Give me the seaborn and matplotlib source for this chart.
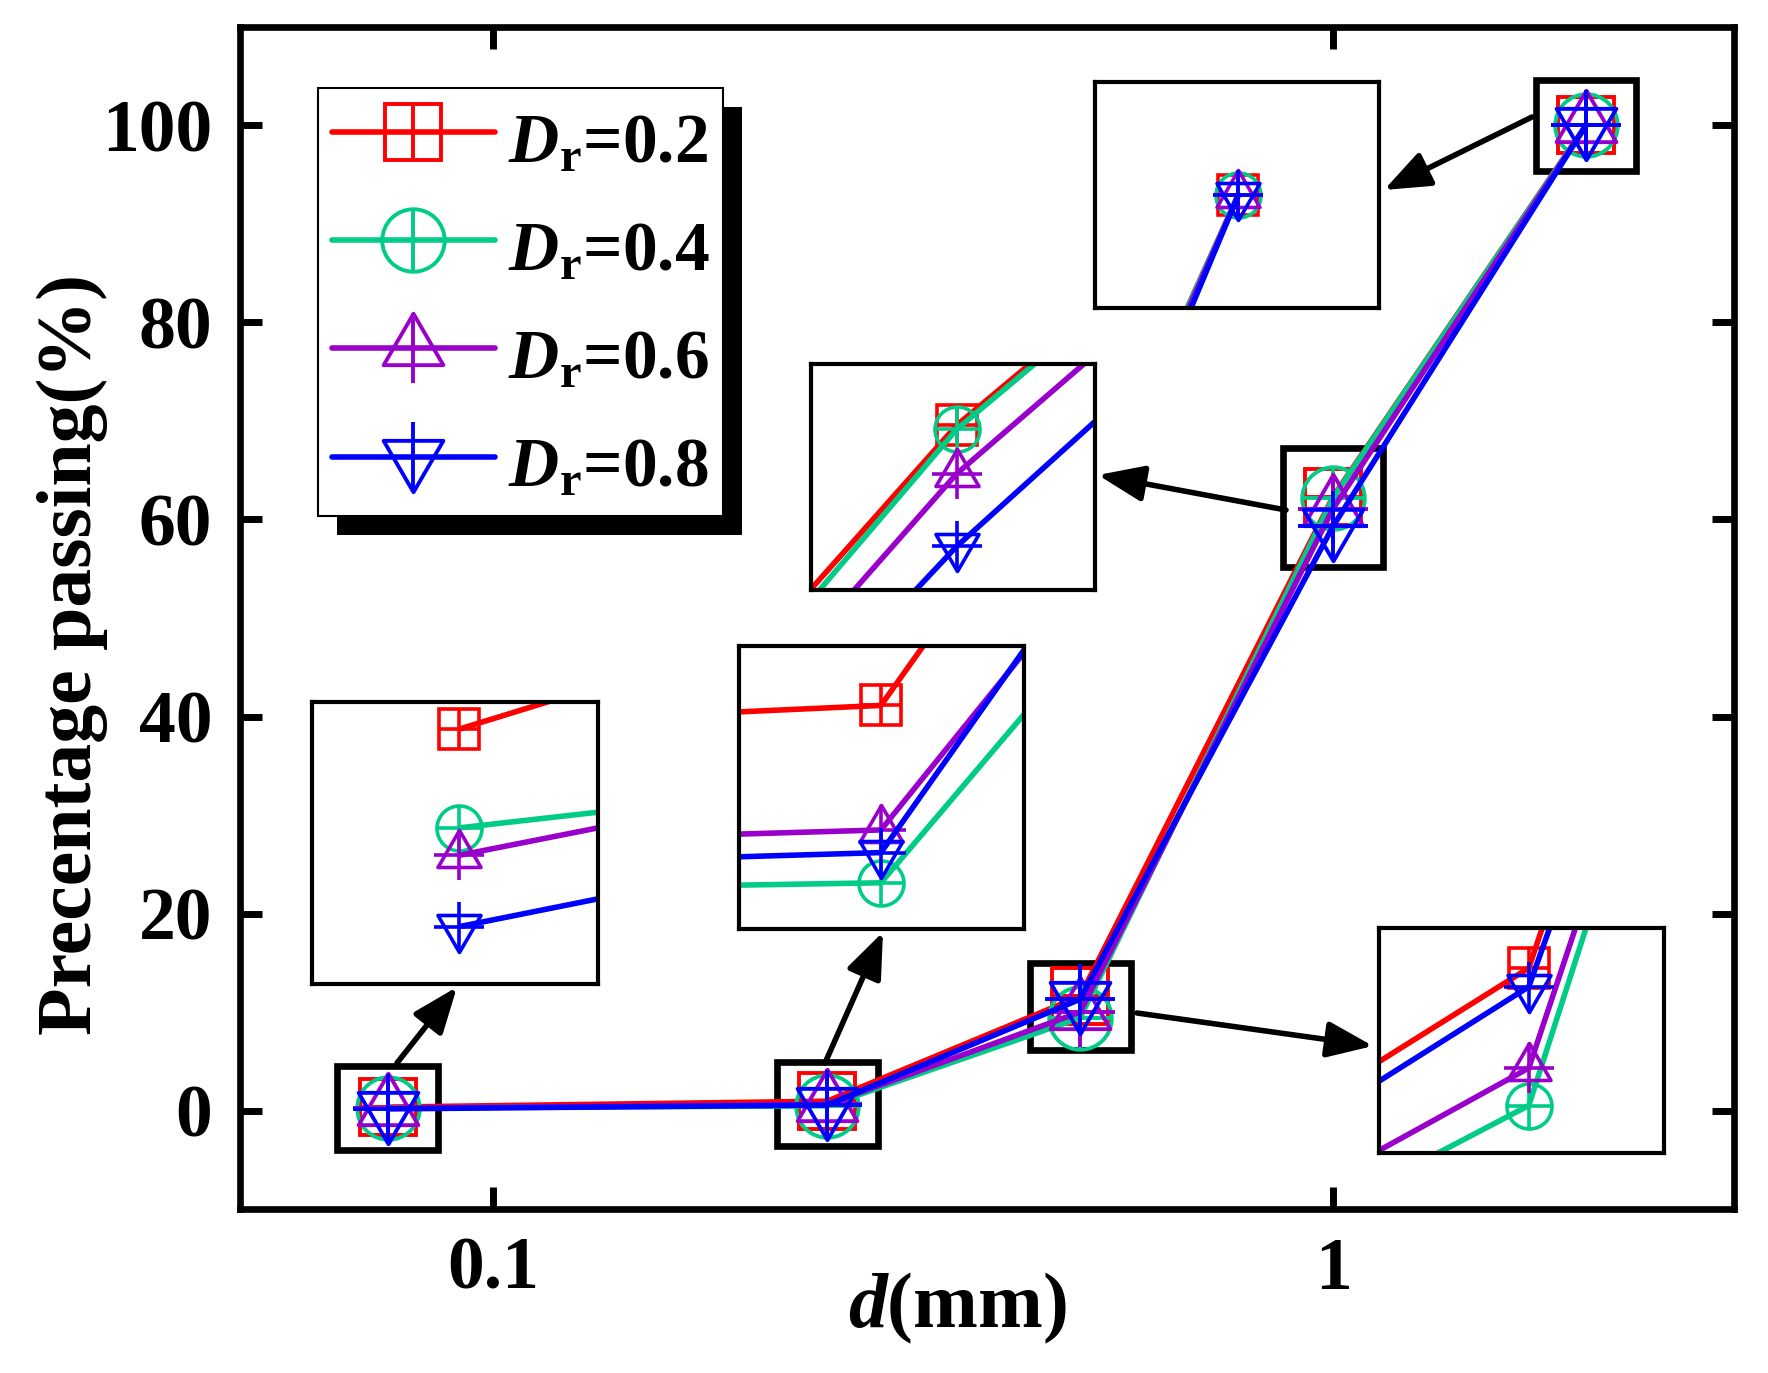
import matplotlib
matplotlib.use("Agg")
import numpy as np
import pandas as pd
import seaborn as sns
from matplotlib import pyplot as plt
from matplotlib.path import Path
from matplotlib.patches import Rectangle

# sieve sizes (mm) and percentage passing for each relative density
d = [0.075, 0.25, 0.5, 1.0, 2.0]
dr02 = [0.35, 0.95, 11.6, 62.3, 100.0]
dr04 = [0.26, 0.48, 9.4, 62.2, 100.0]
dr06 = [0.235, 0.62, 10.0, 61.1, 100.0]
dr08 = [0.17, 0.56, 11.3, 59.3, 100.0]
series = ["0.2", "0.4", "0.6", "0.8"]
yticks = [0, 20, 40, 60, 80, 100]
xticks = [0.1, 1]

df = pd.DataFrame({"d": d, "0.2": dr02, "0.4": dr04, "0.6": dr06, "0.8": dr08})

sns.set_style("ticks")
plt.rcParams["font.family"] = ["Liberation Serif", "DejaVu Serif"]
plt.rcParams["font.weight"] = "bold"
plt.rcParams["text.color"] = "k"
plt.rcParams["axes.labelcolor"] = "k"
plt.rcParams["xtick.color"] = "k"
plt.rcParams["ytick.color"] = "k"
plt.rcParams["mathtext.fontset"] = "custom"
plt.rcParams["mathtext.rm"] = "Liberation Serif:bold"
plt.rcParams["mathtext.bf"] = "Liberation Serif:bold"
plt.rcParams["mathtext.it"] = "Liberation Serif:italic:bold"
plt.rcParams["mathtext.bfit"] = "Liberation Serif:italic:bold"

codes = [Path.MOVETO, Path.LINETO, Path.LINETO, Path.CLOSEPOLY]
tri_up = Path([(0, 1), (-0.86, -0.48), (0.86, -0.48), (0, 1)], codes)
tri_dn = Path([(0, -1), (-0.86, 0.48), (0.86, 0.48), (0, -1)], codes)

colors = ["#FF0000", "#00CC88", "#9900CC", "#0000FF"]
markers = ["s", "o", tri_up, tri_dn]
msizes = [40, 45, 50, 50]


def draw(ax, scale, lw, mew):
    handles = []
    for lab, col, mk, ms in zip(series, colors, markers, msizes):
        sns.lineplot(data=df, x="d", y=lab, ax=ax, color=col, linewidth=lw,
                     marker=mk, markersize=ms * scale, markerfacecolor="none",
                     markeredgecolor=col, markeredgewidth=mew,
                     estimator=None, sort=False, legend=False)
        ln = ax.lines[-1]
        pl, = ax.plot(df["d"], df[lab], ls="none", marker="+",
                      markersize=ms * scale, markeredgecolor=col,
                      markeredgewidth=mew)
        handles.append((ln, pl))
    return handles


fig = plt.figure(figsize=(17.68, 13.73), dpi=100)
ax = fig.add_axes([0.1357, 0.1194, 0.845, 0.861])
handles = draw(ax, 1.0, 4.0, 2.8)

ax.set_xscale("log")
ax.set_xlim(0.05, 3.0)
ax.set_ylim(-10, 110)
ax.set_xticks(xticks)
ax.set_xticklabels(["0.1", "1"])
ax.xaxis.set_minor_locator(matplotlib.ticker.NullLocator())
ax.set_yticks(yticks)
ax.tick_params(which="major", direction="in", length=16, width=5,
               top=True, right=True, labelsize=53, pad=20, color="k",
               labelcolor="k")
for sp in ax.spines.values():
    sp.set_linewidth(4.8)
    sp.set_color("k")
ax.set_xlabel(r"$\mathbfit{d}$(mm)", fontsize=56, fontweight="bold")
ax.set_ylabel("Precentage passing(%)", fontsize=56, fontweight="bold")
ax.xaxis.set_label_coords(0.48, -0.052)
ax.yaxis.set_label_coords(-0.088, 0.469)

# boxes around each group of points
vals = np.array([dr02, dr04, dr06, dr08])
box_h = [8.5, 8.5, 8.9, 12.1, 9.2]
for xi, yc, h in zip(d, vals.mean(axis=0), box_h):
    x0 = xi * 10 ** -0.06
    x1 = xi * 10 ** 0.06
    ax.add_patch(Rectangle((x0, yc - h / 2), x1 - x0, h, fill=False,
                           edgecolor="k", linewidth=4.8, zorder=1.5))

leg = ax.legend(handles, [r"$\mathbfit{D}_{\mathbf{r}}$=" + s for s in series],
                loc="upper left", bbox_to_anchor=(318 / 1768, 1 - 88 / 1373),
                bbox_transform=fig.transFigure, borderaxespad=0,
                fontsize=50, frameon=True, fancybox=False, framealpha=1,
                edgecolor="k", handlelength=2.35, handletextpad=0.18,
                handleheight=1.27, labelspacing=0.47, borderpad=0.2)
leg.get_frame().set_linewidth(1.5)

# zoomed insets: (left, top, right, bottom) in pixels, x range (log10), y range
W, H = 1768, 1373
insets = [
    ((312, 702, 598, 984), (-1.161, -1.091), (0.1177, 0.3747)),
    ((739, 646, 1024, 929), (-0.617, -0.587), (0.3575, 1.1075)),
    ((1379, 928, 1664, 1153), (-0.3434, -0.2628), (8.64, 12.24)),
    ((811, 364, 1095, 590), (-0.0241, 0.0229), (58.22, 63.82)),
    ((1095, 82, 1379, 308), (0.189, 0.411), (95.0, 105.0)),
]
for (l, t, r, b), xr, yr in insets:
    axi = fig.add_axes([l / W, 1 - b / H, (r - l) / W, (b - t) / H])
    draw(axi, 0.72, 4.0, 2.6)
    axi.set_xscale("log")
    axi.set_xlim(10 ** xr[0], 10 ** xr[1])
    axi.set_ylim(*yr)
    axi.set_xticks([])
    axi.set_yticks([])
    axi.xaxis.set_minor_locator(matplotlib.ticker.NullLocator())
    axi.set_xlabel("")
    axi.set_ylabel("")
    for sp in axi.spines.values():
        sp.set_linewidth(3)
        sp.set_color("k")

# arrows from boxes to insets (start, tip) in pixels
arrows = [((397, 1063), (457, 987)), ((825, 1063), (883, 932)),
          ((1137, 1013), (1373, 1046)), ((1286, 510), (1098, 475)),
          ((1532, 117), (1384, 190))]
for (xs, ys), (xe, ye) in arrows:
    fig.add_artist(matplotlib.patches.FancyArrowPatch(
        (xs / W, 1 - ys / H), (xe / W, 1 - ye / H), transform=fig.transFigure,
        arrowstyle="-|>,head_length=1.4,head_width=0.55", mutation_scale=20,
        linewidth=4, color="k", shrinkA=0, shrinkB=0, zorder=10))

# legend drop shadow
fig.canvas.draw()
bb = leg.get_frame().get_window_extent()
off = 19
ax.add_patch(Rectangle(((bb.x0 + off) / W, (bb.y0 - off) / H), bb.width / W,
                       bb.height / H, transform=fig.transFigure, facecolor="k",
                       edgecolor="none", zorder=4.9, clip_on=False))

fig.savefig("out.png", dpi=100)
